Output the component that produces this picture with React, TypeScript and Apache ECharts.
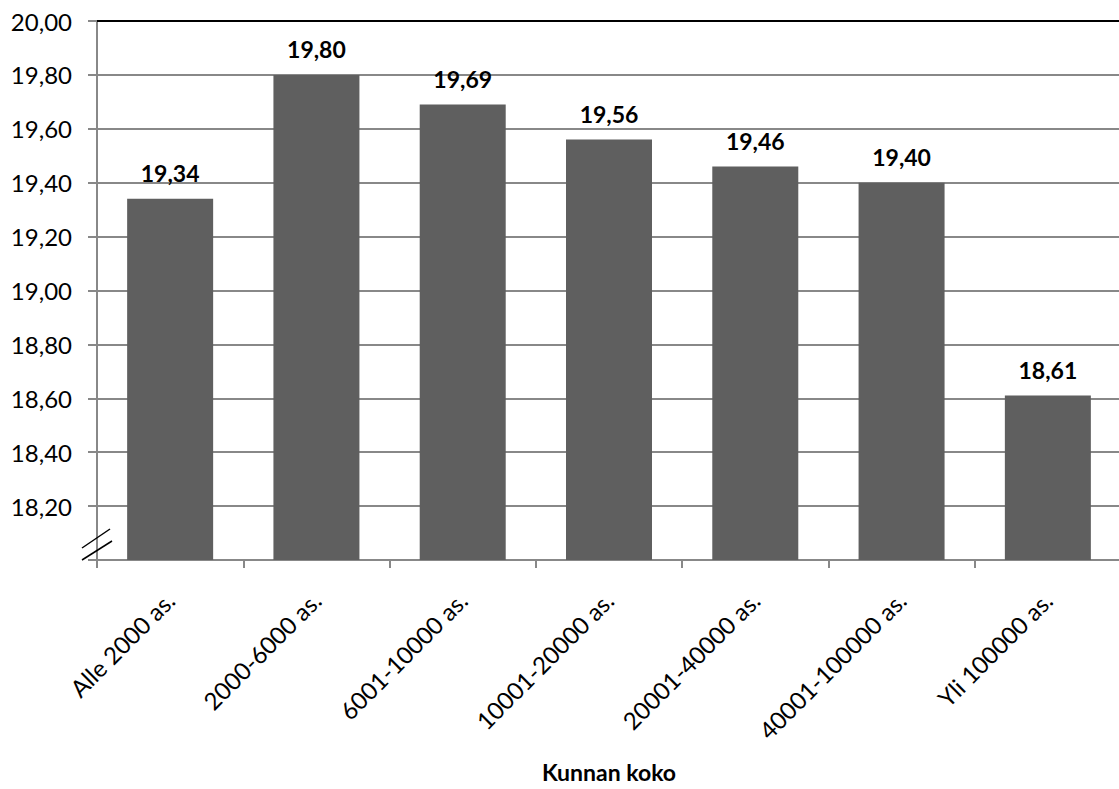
import React, { useEffect, useRef } from "react";
import * as echarts from "echarts";

const categories = [
  "Alle 2000 as.",
  "2000-6000 as.",
  "6001-10000 as.",
  "10001-20000 as.",
  "20001-40000 as.",
  "40001-100000 as.",
  "Yli 100000 as.",
];
const values = [19.34, 19.8, 19.69, 19.56, 19.46, 19.4, 18.61];
const axisTitle = "Kunnan koko";

const FONT = "Lato";
const fmt = (v: number) => v.toFixed(2).replace(".", ",");

export default function App() {
  const ref = useRef<HTMLDivElement>(null);
  useEffect(() => {
    document.body.style.margin = "0";
    const chart = echarts.init(ref.current!, null, { renderer: "svg" });
    chart.setOption({
      animation: false,
      backgroundColor: "#ffffff",
      textStyle: { fontFamily: FONT },
      grid: {
        left: 97,
        right: -2,
        top: 21,
        bottom: 229,
        containLabel: false,
        outerBoundsMode: "none",
      },
      xAxis: {
        type: "category",
        data: categories,
        axisLine: { lineStyle: { color: "#888888", width: 2 } },
        axisTick: { show: true, length: 8, lineStyle: { color: "#888888", width: 2 } },
        axisLabel: {
          rotate: 45,
          color: "#000",
          fontSize: 24,
          fontFamily: FONT,
          margin: 36,
          interval: 0,
        },
        name: axisTitle,
        nameLocation: "middle",
        nameGap: 200,
        nameTextStyle: { color: "#000", fontSize: 23, fontWeight: "bold", fontFamily: FONT },
      },
      yAxis: {
        type: "value",
        min: 18,
        max: 20,
        interval: 0.2,
        axisLine: { show: true, lineStyle: { color: "#888888", width: 2 } },
        axisTick: { show: true, length: 9, lineStyle: { color: "#888888", width: 2 } },
        splitLine: { show: true, lineStyle: { color: "#888888", width: 2 } },
        axisLabel: {
          color: "#000",
          fontSize: 24,
          fontFamily: FONT,
          margin: 25,
          formatter: (v: number) => (Math.abs(v - 18) < 1e-6 ? "" : fmt(v)),
        },
      },
      series: [
        {
          type: "bar",
          data: values,
          barWidth: 86,
          itemStyle: { color: "#5f5f5f" },
          label: {
            show: true,
            position: "top",
            distance: 14,
            color: "#000",
            fontSize: 23,
            fontWeight: "bold",
            fontFamily: FONT,
            formatter: (p: any) => fmt(p.value),
          },
        },
      ],
      graphic: [
        {
          type: "line",
          shape: { x1: 97, y1: 21, x2: 1119, y2: 21 },
          style: { stroke: "#000", lineWidth: 2 },
          z: 100,
        },
        {
          type: "line",
          shape: { x1: 82, y1: 548, x2: 110, y2: 529 },
          style: { stroke: "#000", lineWidth: 1.5 },
          z: 100,
        },
        {
          type: "line",
          shape: { x1: 82, y1: 560, x2: 112, y2: 541 },
          style: { stroke: "#000", lineWidth: 1.5 },
          z: 100,
        },
      ],
    });
    return () => chart.dispose();
  }, []);
  return <div ref={ref} style={{ width: 1119, height: 789 }} />;
}
